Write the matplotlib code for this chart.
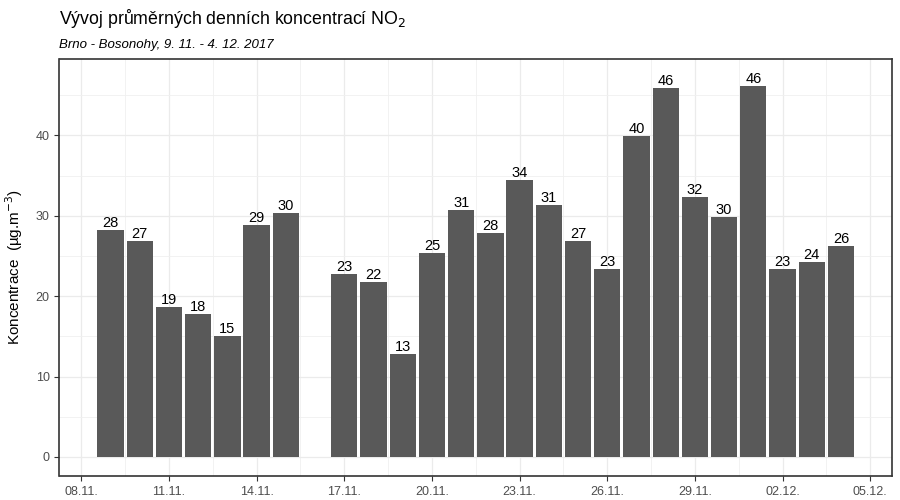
import matplotlib
matplotlib.use("Agg")
import matplotlib.pyplot as plt
import matplotlib.dates as mdates
import numpy as np
import datetime as dt

plt.rcParams['font.family'] = ['Liberation Sans', 'DejaVu Sans']

dates = ["2017-11-09", "2017-11-10", "2017-11-11", "2017-11-12", "2017-11-13",
         "2017-11-14", "2017-11-15",
         "2017-11-17", "2017-11-18", "2017-11-19", "2017-11-20", "2017-11-21",
         "2017-11-22", "2017-11-23", "2017-11-24", "2017-11-25", "2017-11-26",
         "2017-11-27", "2017-11-28", "2017-11-29", "2017-11-30", "2017-12-01",
         "2017-12-02", "2017-12-03", "2017-12-04"]
values = [28.2, 26.9, 18.6, 17.8, 15.1, 28.8, 30.4,
          22.8, 21.7, 12.8, 25.4, 30.7, 27.9, 34.4, 31.4, 26.8, 23.4,
          39.9, 45.9, 32.3, 29.8, 46.2, 23.4, 24.2, 26.2]
tick_dates = ["2017-11-08", "2017-11-11", "2017-11-14", "2017-11-17", "2017-11-20",
              "2017-11-23", "2017-11-26", "2017-11-29", "2017-12-02", "2017-12-05"]
tick_labels = ["08.11.", "11.11.", "14.11.", "17.11.", "20.11.",
               "23.11.", "26.11.", "29.11.", "02.12.", "05.12."]

x = mdates.date2num([dt.datetime.strptime(d, "%Y-%m-%d") for d in dates])
xt = mdates.date2num([dt.datetime.strptime(d, "%Y-%m-%d") for d in tick_dates])

fig = plt.figure(figsize=(9, 5), dpi=100)
ax = fig.add_axes([59.5/900, 1-476/500, (892-59.5)/900, (476-59)/500])

ax.bar(x, values, width=0.9, color="#595959", zorder=2)
for xi, v in zip(x, values):
    ax.text(xi, v, f"{round(v):.0f}", ha="center", va="bottom", fontsize=10.5,
            color="black", zorder=3)

span = (x.max() + 0.45) - (x.min() - 0.45)
ax.set_xlim(x.min() - 0.45 - 0.05*span, x.max() + 0.45 + 0.05*span)
ax.set_ylim(-2.37, 49.5)

ax.set_xticks(xt)
ax.set_xticklabels(tick_labels)
ax.set_xticks((xt[:-1] + xt[1:]) / 2, minor=True)
ax.set_yticks([0, 10, 20, 30, 40])
ax.set_yticks([5, 15, 25, 35, 45], minor=True)

ax.grid(True, which="major", color="#EBEBEB", linewidth=0.9, zorder=0)
ax.grid(True, which="minor", color="#F0F0F0", linewidth=0.6, zorder=0)
ax.set_axisbelow(True)

ax.tick_params(axis="both", which="major", labelsize=9, labelcolor="#4D4D4D",
               color="#333333", length=3.5, width=0.8)
ax.tick_params(axis="both", which="minor", length=0)
for s in ax.spines.values():
    s.set_color("#333333")
    s.set_linewidth(1.2)

ax.set_ylabel("Koncentrace  (µg.m$^{-3}$)", fontsize=11, color="black", labelpad=8)

fig.text(59.5/900, 1-18/500, "Vývoj průměrných denních koncentrací NO$_2$",
         fontsize=12.8, ha="left", va="center")
fig.text(59.5/900, 1-45/500, "Brno - Bosonohy, 9. 11. - 4. 12. 2017",
         fontsize=9.5, style="italic", ha="left", va="center")

fig.savefig("out.png", dpi=100)
